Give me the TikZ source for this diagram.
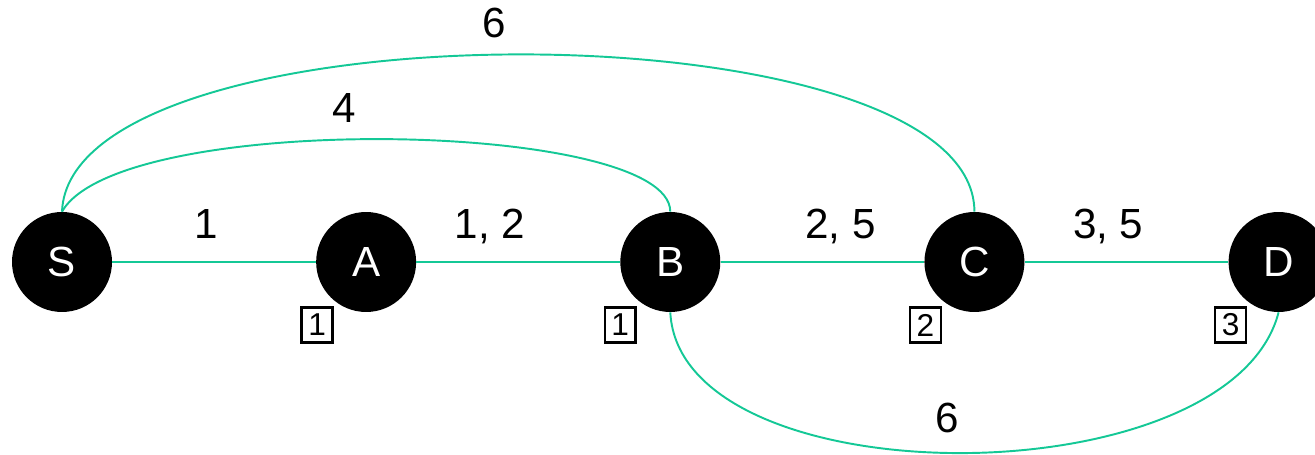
\documentclass[tikz,border=0pt]{standalone}
\usepackage{fontspec}
\setmainfont{Liberation Sans}
\usetikzlibrary{
    positioning,
    calc
}
\definecolor{edgegreen}{RGB}{20,200,150}

\begin{document}
\begin{tikzpicture}[
    x=0.02cm, y=-0.02cm,
    node distance=4.07cm,
    vertex/.style={
        circle, fill=black, draw=none, minimum size=2cm, inner sep=0pt,
        text=white, font=\fontsize{24}{28}\selectfont
    },
    wlabel/.style={
        font=\fontsize{24}{28}\selectfont, text height=17pt, text depth=3pt,
        inner sep=2pt
    },
    tag/.style={
        rectangle, draw=black, line width=1.5pt, minimum width=17.6pt,
        minimum height=20pt, inner sep=0pt, font=\fontsize{18}{20}\selectfont
    },
    link/.style={draw=edgegreen, line width=1.1pt}
]
\useasboundingbox (0,0) rectangle (1315,455);

% Vertices in one row
\node[vertex] (S) at (62,262) {S};
\node[vertex, right=of S] (A) {A};
\node[vertex, right=of A] (B) {B};
\node[vertex, right=of B] (C) {C};
\node[vertex, right=of C] (D) {D};

% Boxed marks below the vertices
\node[tag] (tagA) at ([shift={(-49,63)}]A) {1};
\node[tag] (tagB) at ([shift={(-50,63)}]B) {1};
\node[tag] (tagC) at ([shift={(-49,63)}]C) {2};
\node[tag] (tagD) at ([shift={(-48,63)}]D) {3};

% ------------------------------- Edges ---------------------------------------
\draw[link] (S) -- node[wlabel, pos=0.46, above=8pt] {1} (A);
\draw[link] (A) -- node[wlabel, pos=0.36, above=8pt] {1, 2} (B);
\draw[link] (B) -- node[wlabel, pos=0.59, above=8pt] {2, 5} (C);
\draw[link] (C) -- node[wlabel, pos=0.41, above=8pt] {3, 5} (D);

\draw[link] (S.north) .. controls (120,110) and (670,120) ..
    node[wlabel, pos=0.45, above=4pt] {4} (B.north);
\draw[link] (S.north) .. controls (70,2) and (974,2) ..
    node[wlabel, pos=0.48, above=4pt] {6} (C.north);
\draw[link] (B.south) .. controls (680,500) and (1230,500) ..
    node[wlabel, pos=0.485, above=6pt] {6} (D.south);

\end{tikzpicture}
\end{document}
